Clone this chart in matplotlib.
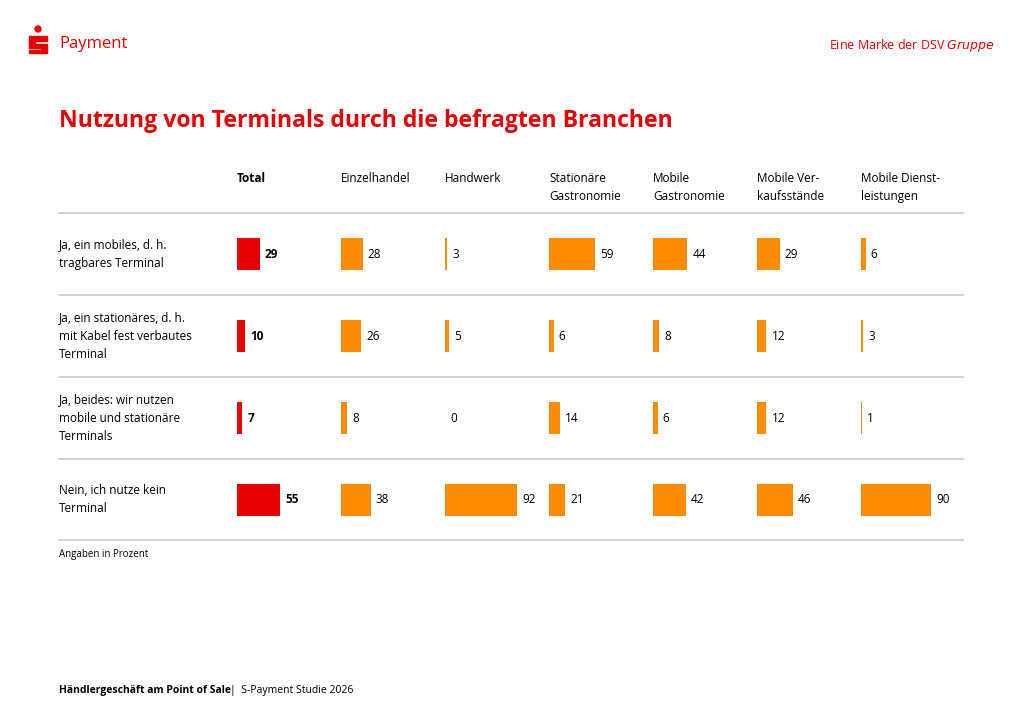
import matplotlib.pyplot as plt
from matplotlib.patches import Rectangle, Circle

RED = "#e60000"
ORANGE = "#ff8c00"

columns = ["Total", "Einzelhandel", "Handwerk", "Stationäre\nGastronomie",
           "Mobile\nGastronomie", "Mobile Ver-\nkaufsstände", "Mobile Dienst-\nleistungen"]
rows = ["Ja, ein mobiles, d. h.\ntragbares Terminal",
        "Ja, ein stationäres, d. h.\nmit Kabel fest verbautes\nTerminal",
        "Ja, beides: wir nutzen\nmobile und stationäre\nTerminals",
        "Nein, ich nutze kein\nTerminal"]
values = [
    [29, 28, 3, 59, 44, 29, 6],
    [10, 26, 5, 6, 8, 12, 3],
    [7, 8, 0, 14, 6, 12, 1],
    [55, 38, 92, 21, 42, 46, 90],
]

W, H = 1020, 720
fig = plt.figure(figsize=(W / 100, H / 100), dpi=100)
ax = fig.add_axes([0, 0, 1, 1])
ax.set_xlim(0, W)
ax.set_ylim(H, 0)
ax.axis("off")
plt.rcParams["font.family"] = ["Open Sans", "DejaVu Sans"]

# header logo
ax.add_patch(Rectangle((29, 36), 18, 5, color=RED))
ax.add_patch(Rectangle((29, 41), 6, 4, color=RED))
ax.add_patch(Rectangle((29, 44), 18, 4, color=RED))
ax.add_patch(Rectangle((41, 47), 6, 4, color=RED))
ax.add_patch(Rectangle((29, 50), 18, 3, color=RED))
ax.add_patch(Circle((38, 29), 3, color=RED))
ax.text(59, 44, "Payment", color=RED, fontsize=12, va="center")
ax.text(995, 45, "Eine Marke der DSV $\\it{Gruppe}$", color=RED, fontsize=9,
        va="center", ha="right")
ax.text(59, 121, "Nutzung von Terminals durch die befragten Branchen", color=RED,
        fontsize=16.6, fontweight="bold", va="center")

col_x = [237 + 104 * i for i in range(len(columns))]
for x, c in zip(col_x, columns):
    ax.text(x, 172, c, fontsize=8.5, va="top", ha="left",
            fontweight="bold" if c == "Total" else "normal", linespacing=1.5)

seps = [213, 295, 377, 459, 540]
for y in seps:
    ax.plot([59, 963], [y, y], color="#d0d0d0", lw=1.3)

scale = 72 / 92
for r, (label, vals) in enumerate(zip(rows, values)):
    yc = (seps[r] + seps[r + 1]) / 2
    ax.text(59, yc, label, fontsize=8.5, va="center", ha="left", linespacing=1.5)
    for i, (x, v) in enumerate(zip(col_x, vals)):
        w = v * scale
        if v > 0:
            w = max(w, 1.2)
        ax.barh(yc, w, left=x, height=32, color=RED if i == 0 else ORANGE)
        ax.text(x + w + 5, yc, str(v), fontsize=8.5, va="center", ha="left",
                fontweight="bold" if i == 0 else "medium")

ax.text(59, 554, "Angaben in Prozent", fontsize=7, va="center")
ax.text(59, 690, "Händlergeschäft am Point of Sale", fontsize=7.5,
        fontweight="bold", va="center")
ax.text(230, 690, "|  S-Payment Studie 2026", fontsize=7.5, va="center")

fig.savefig("out.png", dpi=100)
